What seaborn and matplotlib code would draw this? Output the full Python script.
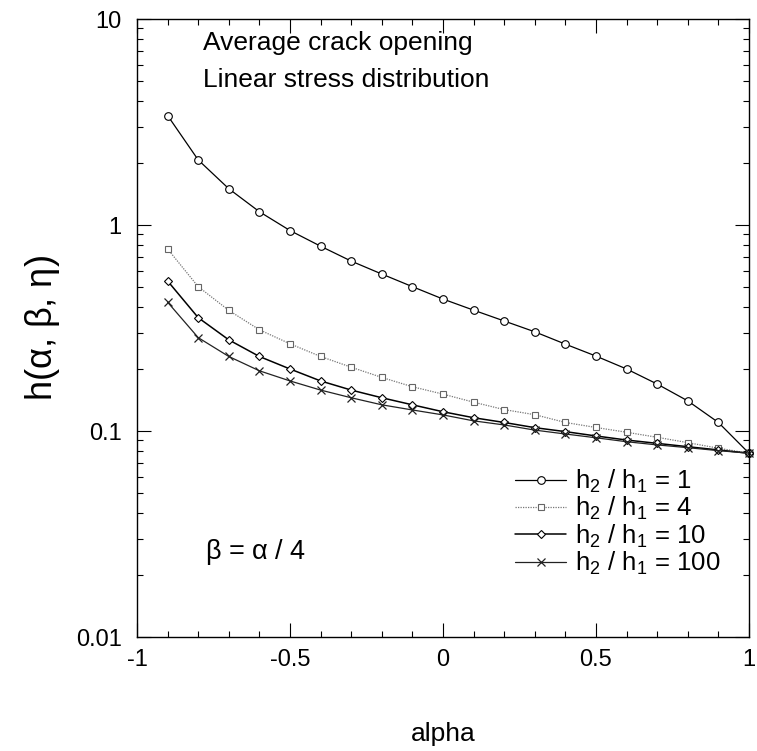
import matplotlib
matplotlib.use("Agg")
import matplotlib.pyplot as plt
import matplotlib.ticker as mticker
import seaborn as sns
import pandas as pd

# alpha grid and h(alpha, beta, eta) for each thickness ratio h2/h1
alpha = [-0.9, -0.8, -0.7, -0.6, -0.5, -0.4, -0.3, -0.2, -0.1, 0.0,
         0.1, 0.2, 0.3, 0.4, 0.5, 0.6, 0.7, 0.8, 0.9, 1.0]
h_ratio_1 = [3.40, 2.07, 1.50, 1.16, 0.94, 0.789, 0.668, 0.578, 0.502, 0.437,
             0.386, 0.342, 0.303, 0.264, 0.231, 0.200, 0.169, 0.140, 0.110, 0.078]
h_ratio_4 = [0.765, 0.502, 0.385, 0.310, 0.265, 0.230, 0.204, 0.182, 0.164, 0.151,
             0.138, 0.127, 0.120, 0.110, 0.104, 0.0986, 0.0932, 0.0878, 0.0825, 0.078]
h_ratio_10 = [0.535, 0.355, 0.277, 0.230, 0.200, 0.175, 0.158, 0.145, 0.134, 0.124,
              0.116, 0.110, 0.1038, 0.0993, 0.0946, 0.0904, 0.0871, 0.0839, 0.0809, 0.078]
h_ratio_100 = [0.422, 0.284, 0.230, 0.196, 0.175, 0.158, 0.145, 0.134, 0.1265, 0.1197,
               0.112, 0.107, 0.101, 0.0967, 0.0927, 0.0887, 0.0856, 0.0830, 0.0803, 0.078]
series_labels = [r"h$_2$ / h$_1$ = 1",
                 r"h$_2$ / h$_1$ = 4",
                 r"h$_2$ / h$_1$ = 10",
                 r"h$_2$ / h$_1$ = 100"]
x_ticks = [-1, -0.5, 0, 0.5, 1]
x_tick_labels = ["-1", "-0.5", "0", "0.5", "1"]
y_ticks = [0.01, 0.1, 1, 10]
y_tick_labels = ["0.01", "0.1", "1", "10"]

sns.set_theme(style="ticks")
plt.rcParams["font.family"] = ["Liberation Sans", "DejaVu Sans"]
plt.rcParams["mathtext.fontset"] = "custom"
plt.rcParams["mathtext.rm"] = "Liberation Sans"
plt.rcParams["mathtext.it"] = "Liberation Sans"
plt.rcParams["mathtext.sf"] = "Liberation Sans"
plt.rcParams["axes.unicode_minus"] = False
plt.rcParams["text.color"] = "black"
plt.rcParams["axes.labelcolor"] = "black"
plt.rcParams["xtick.color"] = "black"
plt.rcParams["ytick.color"] = "black"

fig = plt.figure(figsize=(7.57, 7.51), dpi=100)
ax = fig.add_axes([137 / 757, 1 - 637 / 751, 612 / 757, 618 / 751])

styles = [
    dict(marker="o", color="black", linestyle="-", lw=0.9, ms=5.5, mfc="white", mec="black", mew=0.8),
    dict(marker="s", color="#777777", linestyle=(0, (1.0, 1.0)), lw=0.9, ms=5.0, mfc="white", mec="#666666", mew=0.8),
    dict(marker="D", color="black", linestyle="-", lw=1.1, ms=4.0, mfc="white", mec="black", mew=0.8),
    dict(marker="x", color="#222222", linestyle="-", lw=0.9, ms=6.0, mfc="none", mec="#222222", mew=0.9),
]
all_series = [h_ratio_1, h_ratio_4, h_ratio_10, h_ratio_100]

for values, label, st in zip(all_series, series_labels, styles):
    df = pd.DataFrame({"alpha": alpha, "h": values})
    sns.lineplot(data=df, x="alpha", y="h", ax=ax, label=label,
                 marker=st["marker"], color=st["color"], linestyle=st["linestyle"],
                 linewidth=st["lw"], markersize=st["ms"], markerfacecolor=st["mfc"],
                 markeredgecolor=st["mec"], markeredgewidth=st["mew"], clip_on=False)

ax.set_yscale("log")
ax.set_xlim(-1, 1)
ax.set_ylim(0.01, 10)
ax.set_xticks(x_ticks)
ax.set_xticklabels(x_tick_labels)
ax.xaxis.set_minor_locator(mticker.MultipleLocator(0.1))
ax.set_yticks(y_ticks)
ax.set_yticklabels(y_tick_labels)
ax.yaxis.set_minor_locator(mticker.LogLocator(base=10, subs=range(2, 10)))
ax.yaxis.set_minor_formatter(mticker.NullFormatter())

ax.tick_params(which="both", direction="in", top=True, right=True,
               labelsize=17, width=0.8)
ax.tick_params(which="major", length=10, pad=11)
ax.tick_params(which="minor", length=4.5)
ax.tick_params(axis="x", which="major", pad=9)
for sp in ax.spines.values():
    sp.set_linewidth(1.0)
    sp.set_color("black")

ax.set_xlabel("alpha", fontsize=19, labelpad=36)
ax.set_ylabel(r"h($\alpha$, $\beta$, $\eta$)", fontsize=26, labelpad=10)

fig.text(203 / 757, 1 - 43 / 751, "Average crack opening", fontsize=19,
         ha="left", va="center")
fig.text(203 / 757, 1 - 80 / 751, "Linear stress distribution", fontsize=19,
         ha="left", va="center")
fig.text(205 / 757, 1 - 552 / 751, r"$\beta$ = $\alpha$ / 4", fontsize=19.5,
         ha="left", va="center")

leg = ax.legend(loc="upper left", bbox_to_anchor=((515 - 137) / 612, (637 - 468) / 618),
                frameon=False, fontsize=18.5, handlelength=2.0, handletextpad=0.35,
                labelspacing=0.0, borderpad=0, borderaxespad=0)

fig.savefig("out.png", dpi=100)
